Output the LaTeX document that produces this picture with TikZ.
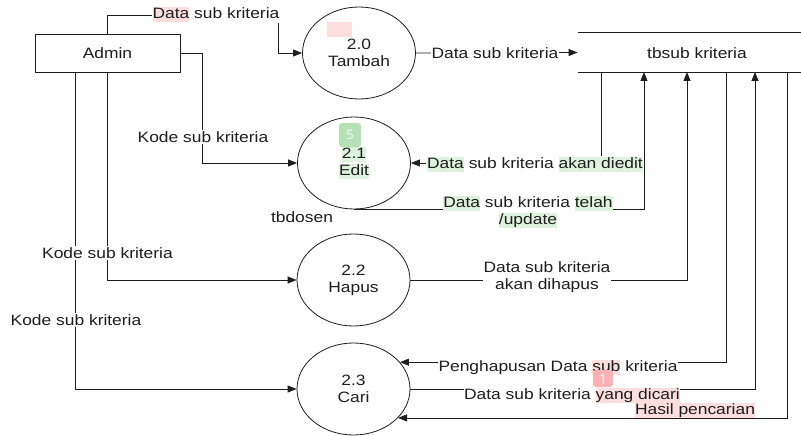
\documentclass[tikz,border=0pt]{standalone}
\usepackage{fontspec}
\setmainfont[FakeStretch=1.16]{Liberation Sans}
\newfontfamily\badgefont{Open Sans}
\usetikzlibrary{shapes.geometric,arrows.meta}
\definecolor{hlpink}{RGB}{252,222,222}
\definecolor{hlgreen}{RGB}{222,242,222}
\definecolor{bdgreen}{RGB}{180,226,180}
\definecolor{bdred}{RGB}{250,178,178}
\definecolor{ink}{RGB}{30,30,30}
\newcommand\hlp[1]{{\setlength\fboxsep{0pt}\colorbox{hlpink}{\rule[-3.5pt]{0pt}{15pt}#1}}}
\newcommand\hlg[1]{{\setlength\fboxsep{0pt}\colorbox{hlgreen}{\rule[-3.5pt]{0pt}{15pt}#1}}}
\begin{document}
\begin{tikzpicture}[x=1pt,y=-1pt,
  font=\fontsize{15}{17}\selectfont,
  line width=0.8pt,
  proc/.style={ellipse, draw=ink, minimum width=113pt, minimum height=92pt, inner sep=0pt, align=center, text=ink},
  entity/.style={draw=ink, minimum width=145pt, minimum height=38pt, inner sep=0pt, text=ink},
  lbl/.style={fill=white, inner sep=1pt, align=center, text=ink},
  flow/.style={draw=ink},
  arr/.style={flow, -{Triangle[length=9pt,width=7pt]}},
  badge/.style={rounded corners=3pt, inner sep=0pt, text=white, font=\badgefont\fontsize{13}{14}\selectfont}
]
\useasboundingbox[fill=white] (0,0) rectangle (801,436);

% nodes
\node[entity] (admin) at (107.5,53) {Admin};
\node[proc] (p20) at (359,53) {2.0\\Tambah};
\node[proc] (p21) at (354,163) {\hlg{2.1}\\\hlg{Edit}};
\node[proc] (p22) at (353.5,280) {2.2\\Hapus};
\node[proc] (p23) at (353.5,389) {2.3\\Cari};
\node[minimum width=223pt, minimum height=39pt, inner sep=0pt] (st) at (689.5,52.5) {};
\node[text=ink] (stl) at (697,53) {tbsub kriteria};
\draw[flow] (st.north west) -- (st.north east);
\draw[flow] (st.south west) -- (st.south east);

% helper coordinates
\coordinate (c1) at (278,15);
\coordinate (c2) at (202,53);
\coordinate (a1) at (75,72);
\coordinate (s1) at (601,72);
\coordinate (s2) at (644,72);
\coordinate (s3) at (687,72);
\coordinate (s4) at (726,72);
\coordinate (s5) at (755,72);
\coordinate (s6) at (787,72);

% connectors
\draw[arr] (admin.north) |- (c1) |- (p20.west);
\draw[arr] (admin.east) -- (c2) |- (p21.west);
\draw[arr] (admin.south) |- (p22.west);
\draw[arr] (a1) |- (p23.west);
\draw[arr] (p20.east) -- (st.west);
\draw[arr] (s1) |- (p21.east);
\draw[arr] (p21.south) -| (s2);
\draw[arr] (p22.east) -| (s3);
\draw[arr] (s4) |- (p23.30);
\draw[arr] (p23.east) -| (s5);
\draw[arr] (s6) |- (p23.-33);

% labels
\node[lbl] (l1) at (216,15) {\hlp{Data} sub kriteria};
\node[lbl] (l2) at (203,137) {Kode sub kriteria};
\node[lbl] (l3) at (107.5,253) {Kode sub kriteria};
\node[lbl] (l4) at (76,320) {Kode sub kriteria};
\node[lbl] (l5) at (495,53) {Data sub kriteria};
\node[lbl] (l6) at (535,164) {\hlg{Data} sub kriteria \hlg{akan diedit}};
\node[lbl, inner sep=0pt] (l7) at (528,212) {\hlg{Data} sub kriteria \hlg{telah}\\\hlg{/update}};
\node[lbl] (l8) at (547,277) {Data sub kriteria\\akan dihapus};
\node[lbl] (l9) at (558,367) {Penghapusan Data \hlp{sub} kriteria};
\node[lbl, inner sep=0pt] (l10) at (572,395) {Data sub kriteria \hlp{yang dicari}};
\node[lbl, inner sep=0pt] (l11) at (695,410) {\hlp{Hasil pencarian}};
\node[text=ink] (l12) at (302,217) {tbdosen};

% annotation badges
\fill[hlpink] (327,22) rectangle (352,37);
\node[badge, fill=bdgreen, minimum width=22pt, minimum height=24pt] (b5) at (350,135) {5};
\node[badge, fill=bdred, minimum width=20pt, minimum height=17pt] (b1) at (603,378.5) {1};
\end{tikzpicture}
\end{document}
